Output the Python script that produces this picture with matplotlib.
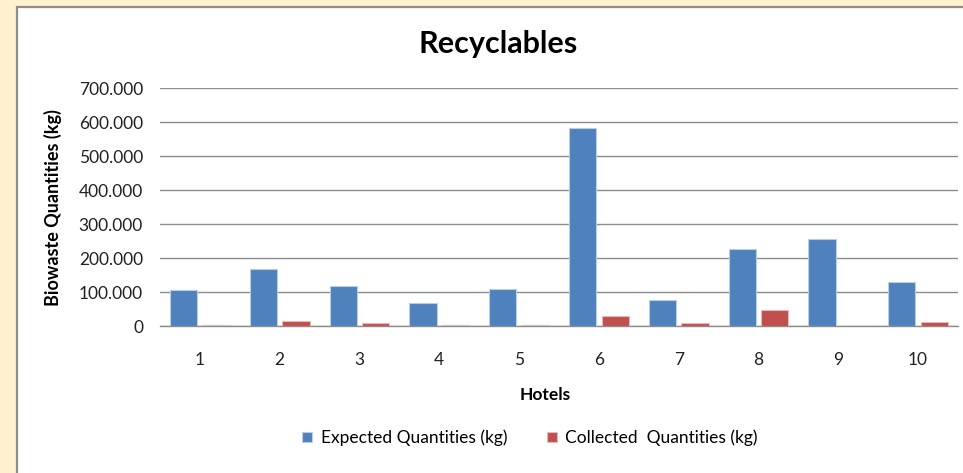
import matplotlib
matplotlib.use("Agg")
import matplotlib.pyplot as plt
from matplotlib.patches import Rectangle
from matplotlib.ticker import FuncFormatter
import numpy as np

plt.rcParams['font.family'] = ['Lato', 'DejaVu Sans']

hotels = ['1', '2', '3', '4', '5', '6', '7', '8', '9', '10']
expected = [106, 167, 118, 69, 109, 582, 77, 226, 256, 129]
collected = [3, 15, 9, 3, 3, 28, 8, 47, 0, 12]
yticks = [0, 100, 200, 300, 400, 500, 600, 700]

W, H = 963, 473
fig = plt.figure(figsize=(W / 100, H / 100), dpi=100)
fig.patch.set_facecolor('#FEF2D0')

# white chart panel with grey border (left/top)
panel = Rectangle((17 / W, -0.1), 1.2, 1 - 7 / H + 0.1, transform=fig.transFigure,
                  facecolor='white', edgecolor='#8E8E8E', linewidth=1.6, zorder=-5)
fig.patches.append(panel)

ax = fig.add_axes([160 / W, 1 - 326 / H, 798 / W, (326 - 88.3) / H])
ax.set_facecolor('none')
ax.set_zorder(2)

x = np.arange(len(hotels))
bw = 0.34
off = 0.205
ax.bar(x - off, expected, bw, color='#4F81BD', edgecolor='#B9CDE5', linewidth=0.8, zorder=3,
       label='Expected Quantities (kg)')
ax.bar(x + off, collected, bw, color='#C0504D', edgecolor='#E6B9B8', linewidth=0.8, zorder=3,
       label='Collected  Quantities (kg)')

ax.set_xlim(-0.5, len(hotels) - 0.5)
ax.set_ylim(0, 700)
ax.set_yticks(yticks)
ax.yaxis.set_major_formatter(FuncFormatter(lambda v, p: '0' if v == 0 else f'{v:.3f}'))
ax.set_xticks(x)
ax.set_xticklabels(hotels)
ax.grid(axis='y', color='#8C8C8C', linewidth=1.0, zorder=1)
for s in ['top', 'right', 'left']:
    ax.spines[s].set_visible(False)
ax.spines['bottom'].set_color('#8C8C8C')
ax.spines['bottom'].set_linewidth(1.0)
ax.tick_params(axis='both', length=0, labelsize=12.5, colors='#222222')
ax.tick_params(axis='y', pad=12.2)
ax.tick_params(axis='x', pad=19)

ax.set_ylabel('Biowaste Quantities (kg)', fontsize=13, fontweight='bold', labelpad=12)
fig.text(545 / W, 1 - 395 / H, 'Hotels', ha='center', va='center', fontsize=12.5, fontweight='bold')
fig.text(498 / W, 1 - 44 / H, 'Recyclables', ha='center', va='center', fontsize=22, fontweight='bold')

leg = ax.legend(loc='center', bbox_to_anchor=(530 / W, 1 - 438 / H), bbox_transform=fig.transFigure,
                ncol=2, frameon=False, fontsize=12.5, handlelength=0.55, handleheight=0.55,
                handletextpad=0.5, columnspacing=2.3)

fig.savefig('out.png', dpi=100, facecolor=fig.get_facecolor())
